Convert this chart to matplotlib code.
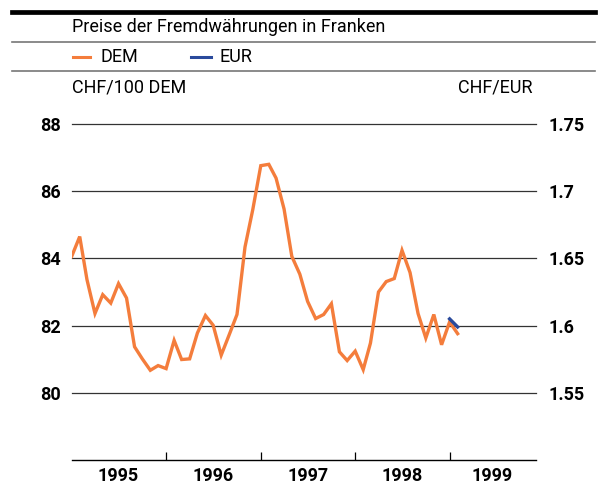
import numpy as np
import pandas as pd
import matplotlib
matplotlib.use('Agg')
import matplotlib.pyplot as plt
from matplotlib.lines import Line2D

# monthly averages, Jan 1995 - Feb 1999
dem = [84.06, 84.65, 83.37, 82.36, 82.92, 82.67, 83.25, 82.82, 81.37, 81.01,
       80.67, 80.81, 80.72, 81.56, 80.99, 81.01, 81.78, 82.30, 82.01, 81.12,
       81.73, 82.33, 84.34, 85.45, 86.76, 86.80, 86.39, 85.47, 84.06, 83.53,
       82.72, 82.21, 82.33, 82.65, 81.22, 80.96, 81.24, 80.69, 81.48, 83.00,
       83.31, 83.40, 84.24, 83.58, 82.36, 81.63, 82.33, 81.43, 82.11, 81.76]
dem_months = pd.date_range('1995-01-01', periods=len(dem), freq='MS')
eur = [1.605, 1.599]
eur_months = pd.date_range('1999-01-01', periods=len(eur), freq='MS')

left_ticks = [80, 82, 84, 86, 88]
right_ticks = [1.55, 1.6, 1.65, 1.7, 1.75]
right_labels = ['1.55', '1.6', '1.65', '1.7', '1.75']
years = [1995, 1996, 1997, 1998, 1999]

ORANGE = '#f47d3c'
BLUE = '#2a4a9c'
plt.rcParams['font.family'] = ['Roboto', 'DejaVu Sans']

W, H = 600, 488
fig = plt.figure(figsize=(W / 100, H / 100), dpi=100)


def fx(x):
    return x / W


def fy(y):
    return 1 - y / H


# header
fig.add_artist(Line2D([fx(12), fx(595)], [fy(11.7), fy(11.7)], color='black', lw=3.4))
fig.add_artist(Line2D([fx(12), fx(595)], [fy(41.7), fy(41.7)], color='#777777', lw=1.2))
fig.add_artist(Line2D([fx(12), fx(595)], [fy(71), fy(71)], color='#777777', lw=1.2))
fig.text(fx(72.5), fy(27.5), 'Preise der Fremdwährungen in Franken', fontsize=13,
         va='center', ha='left')
fig.add_artist(Line2D([fx(73), fx(90)], [fy(56.7), fy(56.7)], color=ORANGE, lw=2.2))
fig.text(fx(101), fy(57), 'DEM', fontsize=13, va='center', ha='left')
fig.add_artist(Line2D([fx(191), fx(211)], [fy(56.7), fy(56.7)], color=BLUE, lw=2.2))
fig.text(fx(220), fy(57), 'EUR', fontsize=13, va='center', ha='left')
fig.text(fx(72.5), fy(87.5), 'CHF/100 DEM', fontsize=13, va='center', ha='left')
fig.text(fx(532.5), fy(87.5), 'CHF/EUR', fontsize=13, va='center', ha='right')

ax = fig.add_axes([fx(71.7), fy(460), fx(536) - fx(71.7), fy(124) - fy(460)])
ax.plot(dem_months, dem, color=ORANGE, lw=2.4, solid_joinstyle='miter', zorder=3)
ax.set_ylim(78, 88)
ax.set_xlim(pd.Timestamp('1995-01-01'), pd.Timestamp('1999-12-01'))

for v in left_ticks:
    ax.axhline(v, color='#333333', lw=0.9, clip_on=False, zorder=1)

for s in ['top', 'left', 'right']:
    ax.spines[s].set_visible(False)
ax.spines['bottom'].set_linewidth(1.0)

ax.set_yticks(left_ticks)
ax.set_yticklabels([str(v) for v in left_ticks], fontweight='bold', fontsize=13)
ax.tick_params(axis='y', length=0, pad=8)

ax.set_xticks([pd.Timestamp(f'{y}-01-01') for y in years[1:]])
ax.set_xticklabels([])
ax.tick_params(axis='x', which='major', direction='in', length=5.5, width=0.9)
label_pos = [pd.Timestamp(f'{y}-07-01') for y in years[:-1]] + [pd.Timestamp('1999-06-15')]
ax.set_xticks(label_pos, minor=True)
ax.set_xticklabels([str(y) for y in years], minor=True, fontweight='bold', fontsize=13)
ax.tick_params(axis='x', which='minor', length=0, pad=5)

ax2 = ax.twinx()
ax2.plot(eur_months, eur, color=BLUE, lw=2.4, zorder=4)
ax2.set_ylim(1.50, 1.75)
for s in ['top', 'left', 'right', 'bottom']:
    ax2.spines[s].set_visible(False)
ax2.set_yticks(right_ticks)
ax2.set_yticklabels(right_labels, fontweight='bold', fontsize=13)
ax2.tick_params(axis='y', length=0, pad=9)

fig.savefig('out.png', dpi=100)
